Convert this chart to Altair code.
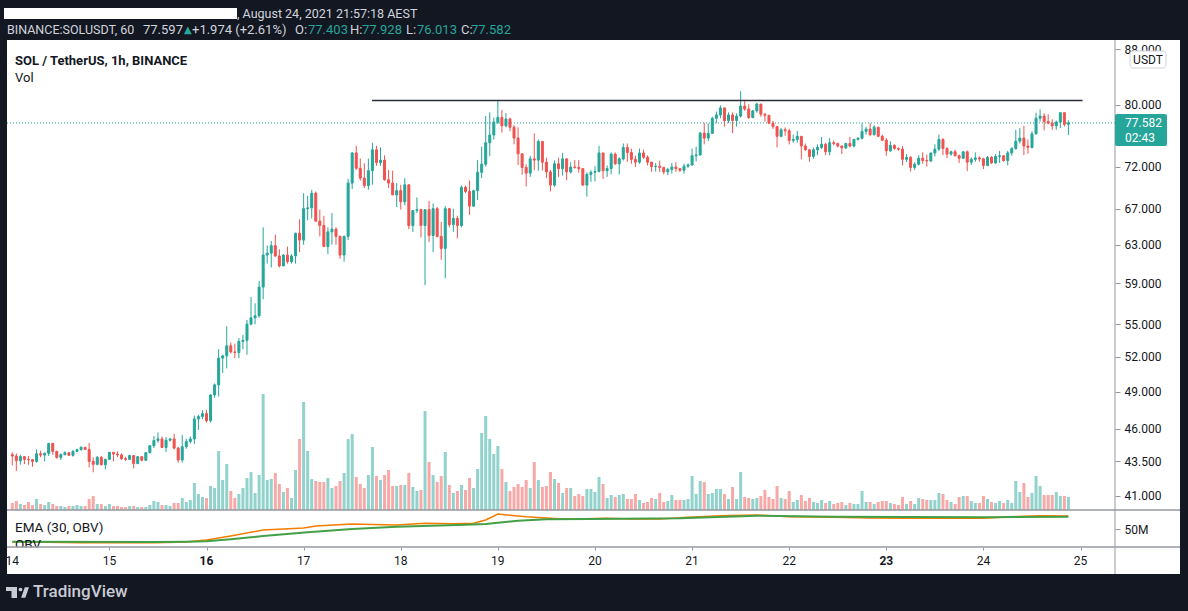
import altair as alt
import pandas as pd

# ---------------- data ----------------
FIRST_OPEN = 44.00  # open of the first hourly candle (Aug 14 00:00 AEST)

close = [
    43.90, 43.55, 43.85, 43.65, 43.63, 43.50, 44.07, 43.97, 44.10, 44.85,
    44.25, 43.80, 44.00, 44.15, 43.95, 44.25, 44.38, 44.55, 44.40, 43.50,
    43.28, 43.80, 43.25, 43.65, 44.18, 44.05, 43.98, 43.70, 43.65, 43.93,
    43.33, 43.85, 43.58, 44.15, 44.68, 45.08, 45.20, 44.55, 45.10, 45.20,
    44.50, 43.60, 44.60, 45.00, 45.20, 46.77, 46.96, 47.20, 46.63, 48.73,
    49.58, 51.90, 52.10, 53.00, 52.45, 52.40, 53.40, 53.50, 55.00, 55.60,
    55.80, 58.60, 61.90, 62.10, 62.90, 61.80, 60.75, 61.90, 61.20, 61.80,
    64.25, 63.50, 67.00, 67.10, 68.80, 65.60, 65.10, 62.80, 64.40, 64.70,
    63.90, 61.90, 63.90, 70.00, 73.70, 71.80, 70.60, 69.70, 71.50, 74.10,
    72.50, 72.80, 70.40, 70.00, 68.60, 69.10, 67.80, 69.80, 65.10, 66.80,
    66.90, 65.10, 66.90, 64.00, 67.00, 63.90, 62.60, 67.00, 65.20, 65.90,
    65.10, 69.50, 69.00, 67.30, 69.10, 71.30, 72.30, 75.00, 76.00, 77.70,
    78.30, 77.20, 78.10, 77.00, 75.60, 73.60, 71.90, 71.20, 72.96, 72.80,
    75.17, 72.55, 71.35, 69.76, 72.35, 71.75, 72.96, 71.35, 71.95, 71.90,
    71.75, 69.76, 71.05, 71.30, 71.40, 73.70, 71.50, 71.75, 73.55, 72.35,
    72.96, 74.40, 73.77, 72.90, 72.55, 73.70, 73.15, 72.55, 72.00, 72.05,
    71.90, 71.35, 71.65, 71.95, 71.75, 71.55, 72.05, 72.20, 73.35, 73.45,
    76.25, 75.60, 76.20, 78.20, 78.65, 79.60, 77.90, 78.65, 77.90, 78.50,
    79.85, 79.45, 78.30, 79.20, 80.13, 78.75, 78.60, 77.55, 77.10, 75.83,
    76.68, 76.55, 75.30, 75.42, 75.83, 74.58, 74.10, 73.27, 74.10, 74.40,
    74.80, 73.85, 75.00, 74.90, 74.58, 74.35, 74.90, 74.58, 75.42, 75.58,
    76.47, 76.77, 76.05, 77.00, 75.83, 75.33, 73.97, 74.66, 74.27, 74.18,
    72.90, 73.15, 71.90, 72.30, 73.04, 72.75, 72.70, 73.70, 74.18, 75.42,
    74.27, 73.56, 73.85, 73.35, 73.04, 73.85, 72.55, 72.90, 73.08, 72.96,
    72.15, 73.15, 72.45, 73.27, 73.35, 72.75, 73.70, 74.27, 75.20, 75.60,
    74.58, 74.40, 76.15, 78.20, 78.50, 77.75, 77.55, 77.20, 77.70, 78.95,
    77.403, 77.582,
]

high = [
    44.18, 44.10, 44.00, 43.85, 43.90, 43.68, 44.40, 44.30, 44.17, 44.90,
    44.90, 44.30, 44.10, 44.25, 44.10, 44.35, 44.45, 44.65, 44.60, 44.90,
    43.80, 43.90, 43.90, 43.70, 44.20, 44.20, 44.25, 44.10, 43.85, 44.00,
    43.95, 43.90, 43.90, 44.20, 44.70, 45.43, 45.70, 45.40, 45.35, 45.25,
    45.60, 44.60, 45.50, 45.20, 45.40, 47.05, 47.10, 47.47, 47.50, 48.80,
    49.70, 52.70, 52.20, 54.80, 53.30, 53.20, 53.70, 54.00, 55.40, 57.60,
    57.00, 59.20, 64.90, 62.90, 63.40, 64.10, 62.50, 62.00, 62.80, 62.00,
    64.30, 65.80, 68.80, 68.50, 69.20, 69.00, 66.90, 66.20, 64.90, 66.50,
    64.90, 64.00, 64.00, 70.50, 73.80, 74.60, 73.00, 72.40, 73.00, 75.00,
    74.60, 74.40, 73.40, 71.60, 71.50, 70.00, 69.80, 70.60, 69.80, 66.80,
    68.30, 67.00, 66.90, 67.90, 67.60, 67.20, 65.50, 67.30, 67.10, 67.00,
    66.20, 69.70, 69.70, 70.30, 69.20, 72.80, 74.50, 78.50, 79.00, 78.30,
    80.60, 79.30, 78.90, 78.30, 77.30, 77.00, 73.60, 72.30, 73.35, 76.20,
    75.40, 75.17, 73.10, 71.60, 72.75, 73.10, 73.70, 73.00, 72.55, 72.80,
    72.80, 71.75, 71.30, 71.55, 72.05, 74.60, 73.70, 72.14, 73.77, 73.77,
    73.15, 74.90, 74.90, 74.25, 73.35, 74.25, 74.10, 73.40, 72.60, 72.45,
    72.75, 71.90, 71.85, 72.45, 72.55, 71.75, 72.35, 72.40, 74.25, 74.50,
    76.40, 77.60, 77.50, 78.40, 79.10, 79.95, 79.60, 79.00, 79.00, 78.87,
    81.90, 80.70, 80.10, 79.32, 80.30, 80.13, 78.90, 78.60, 77.85, 77.10,
    76.90, 77.00, 76.80, 76.05, 76.55, 75.83, 74.90, 74.20, 74.40, 74.80,
    75.75, 75.00, 75.60, 75.30, 75.00, 74.65, 75.00, 75.75, 75.50, 75.70,
    77.55, 77.10, 77.55, 77.30, 77.10, 76.05, 75.60, 75.20, 74.80, 74.40,
    74.58, 73.56, 73.30, 72.55, 73.43, 73.77, 73.50, 73.70, 74.80, 76.05,
    75.60, 74.40, 74.00, 74.10, 73.50, 73.85, 74.00, 73.15, 73.77, 73.27,
    73.10, 73.30, 73.30, 73.56, 73.97, 73.40, 73.97, 74.40, 76.68, 76.90,
    77.20, 75.42, 76.47, 78.95, 79.40, 78.87, 78.75, 78.05, 77.90, 79.00,
    79.00, 77.928,
]

low = [
    43.20, 42.80, 43.25, 43.30, 43.25, 43.10, 43.40, 43.80, 43.50, 43.90,
    44.00, 43.70, 43.60, 43.95, 43.90, 43.85, 44.20, 44.30, 44.35, 43.05,
    42.70, 43.20, 43.20, 42.90, 43.60, 43.50, 43.83, 43.60, 43.55, 43.60,
    42.98, 43.30, 43.50, 43.55, 44.10, 44.50, 44.90, 44.50, 44.20, 45.00,
    44.40, 43.40, 43.40, 44.45, 44.85, 44.80, 45.90, 46.75, 46.50, 46.50,
    48.50, 48.60, 50.60, 51.00, 52.30, 51.90, 51.90, 52.70, 52.20, 54.90,
    55.00, 55.60, 57.40, 61.00, 60.60, 61.70, 60.60, 60.80, 61.00, 61.00,
    61.00, 62.20, 63.00, 65.70, 65.90, 65.50, 63.90, 62.80, 62.00, 63.00,
    63.00, 61.50, 61.20, 63.50, 69.30, 71.60, 70.30, 69.40, 69.20, 69.80,
    72.10, 72.10, 70.30, 69.40, 68.60, 67.20, 66.90, 67.40, 64.70, 64.40,
    66.50, 63.80, 58.80, 63.30, 62.20, 63.80, 61.40, 59.50, 64.90, 64.40,
    63.70, 64.90, 68.80, 66.30, 67.20, 68.00, 70.60, 72.00, 73.30, 75.40,
    77.40, 76.30, 77.00, 76.50, 74.80, 72.20, 71.00, 69.60, 70.75, 71.55,
    71.50, 71.55, 70.60, 69.00, 69.55, 70.75, 70.90, 70.35, 71.15, 71.75,
    71.25, 69.70, 68.40, 70.15, 70.20, 71.30, 70.50, 70.75, 71.05, 72.20,
    71.05, 72.75, 72.60, 72.35, 71.95, 72.35, 72.96, 72.14, 71.35, 71.40,
    71.35, 71.05, 70.95, 71.15, 71.35, 71.35, 71.15, 71.85, 72.15, 72.65,
    73.35, 74.80, 75.20, 76.25, 77.55, 78.20, 77.10, 77.55, 76.25, 77.10,
    78.30, 79.20, 78.10, 78.20, 78.95, 78.40, 77.75, 77.45, 76.80, 74.40,
    75.70, 75.90, 74.80, 75.00, 75.00, 72.90, 73.97, 72.60, 72.96, 73.43,
    74.20, 73.40, 73.40, 74.65, 74.40, 73.56, 74.20, 74.40, 74.40, 75.30,
    75.42, 76.05, 75.83, 75.90, 75.75, 75.20, 73.35, 73.85, 74.10, 73.97,
    72.15, 72.55, 71.40, 71.60, 72.15, 72.35, 72.00, 72.55, 73.27, 73.97,
    73.43, 73.04, 73.35, 73.27, 72.45, 72.96, 71.45, 72.20, 72.60, 72.60,
    71.70, 72.05, 72.35, 72.35, 72.45, 72.60, 72.15, 73.35, 74.10, 74.90,
    73.43, 73.60, 74.27, 76.05, 77.75, 76.60, 77.40, 76.68, 76.68, 76.90,
    77.10, 76.013,
]

volume_k = [
    350, 450, 300, 250, 400, 250, 550, 300, 250, 400,
    300, 200, 200, 150, 200, 200, 250, 200, 200, 550,
    700, 300, 300, 200, 300, 200, 200, 150, 150, 200,
    200, 150, 150, 150, 250, 450, 400, 250, 250, 200,
    350, 350, 600, 400, 500, 1350, 800, 650, 600, 1200,
    1100, 2950, 1500, 2300, 950, 600, 800, 1100, 1600, 1900,
    850, 1750, 5800, 1500, 1550, 1850, 1300, 900, 1100, 600,
    2000, 3550, 5400, 2950, 1550, 1450, 1400, 1400, 1600, 1100,
    1200, 1450, 1850, 3550, 3800, 1650, 1300, 1100, 1750, 3150,
    1700, 1500, 1750, 2000, 1200, 1200, 1250, 1250, 1850, 1150,
    950, 1000, 4950, 2400, 1750, 1400, 1700, 2900, 1250, 850,
    950, 1250, 1000, 1600, 1100, 2050, 3850, 4700, 3550, 2800,
    3200, 2050, 1400, 950, 1150, 1300, 1150, 1500, 1100, 2400,
    1500, 1150, 1200, 1900, 1550, 1350, 850, 1100, 1100, 700,
    800, 700, 1050, 1050, 900, 1650, 1300, 600, 750, 650,
    750, 800, 550, 550, 800, 500, 350, 400, 600, 550,
    850, 400, 450, 750, 500, 500, 500, 550, 1700, 800,
    1450, 1400, 800, 850, 1050, 1050, 800, 550, 1150, 550,
    1900, 650, 600, 550, 600, 700, 1000, 650, 550, 1200,
    600, 550, 950, 400, 500, 750, 450, 600, 400, 350,
    500, 350, 450, 300, 350, 400, 250, 350, 300, 300,
    950, 400, 400, 300, 400, 450, 450, 350, 300, 250,
    650, 300, 450, 300, 600, 550, 500, 500, 500, 850,
    800, 500, 400, 300, 650, 700, 700, 450, 350, 350,
    700, 550, 400, 350, 450, 350, 500, 350, 1450, 900,
    1350, 650, 850, 1700, 1200, 750, 750, 750, 900, 700,
    700, 650,
]

# OBV and its EMA(30), in millions, sampled at hours after Aug 14 00:00
obv_hour = [0, 17, 35, 43, 48, 54, 62, 67, 72, 75, 84, 89, 95, 102, 109, 114, 117, 120, 123,
            127, 132, 136, 141, 147, 153, 160, 167, 175, 184, 192, 203, 212, 221, 231, 240,
            247, 254, 261]
obv_m = [24.6, 22.6, 22.6, 24.0, 28.0, 36.0, 48.0, 50.0, 52.0, 56.0, 60.0, 59.0, 58.0, 61.4,
         60.6, 61.4, 68.0, 80.0, 77.4, 74.6, 72.0, 70.0, 70.6, 71.4, 70.0, 70.0, 73.4, 76.6,
         78.0, 74.6, 73.4, 72.0, 71.4, 71.4, 71.4, 74.6, 76.6, 76.0]
ema_hour = [0, 35, 43, 48, 54, 62, 73, 84, 95, 110, 117, 125, 132, 143, 165, 184, 203, 240, 261]
ema_m = [24.6, 24.0, 24.6, 25.4, 29.4, 36.0, 43.4, 50.0, 54.6, 58.0, 60.0, 66.6, 69.4, 70.0,
         71.4, 76.6, 74.6, 73.4, 74.6]

price_ticks = [88, 80, 72, 67, 63, 59, 55, 52, 49, 46, 43.5, 41]
day_tick_hours = [0, 24, 48, 72, 96, 120, 144, 168, 192, 216, 240, 264]  # Aug 14 ... Aug 25
day_labels = ["14", "15", "16", "17", "18", "19", "20", "21", "22", "23", "24", "25"]
bold_days = ["16", "23"]  # Mondays
resistance_h = [88.9]
resistance_h2 = [264.5]
resistance_price = [80.62]
last_price = [77.582]

assert len(close) == len(high) == len(low) == len(volume_k) == 262
assert len(obv_hour) == len(obv_m) and len(ema_hour) == len(ema_m)

opens = [FIRST_OPEN] + close[:-1]
df = pd.DataFrame({
    "h": list(range(len(close))),
    "open": opens,
    "close": close,
    "high": [max(a, b, c) for a, b, c in zip(high, opens, close)],
    "low": [min(a, b, c) for a, b, c in zip(low, opens, close)],
    "vol": volume_k,
})
obv_df = pd.DataFrame({"h": obv_hour, "v": obv_m})
ema_df = pd.DataFrame({"h": ema_hour, "v": ema_m})
res_df = pd.DataFrame({"h": resistance_h, "h2": resistance_h2, "price": resistance_price})
last_df = pd.DataFrame({"price": last_price})
days_df = pd.DataFrame({"h": day_tick_hours, "label": day_labels})
days_df["bold"] = days_df["label"].isin(bold_days)
ONE = pd.DataFrame({"k": [0]})

# ---------------- styling ----------------
UP, DOWN = "#26a69a", "#ef5350"
VUP, VDOWN = "#92d2cc", "#f7a9a7"
DARK = "#131722"
LIGHT = "#d1d4dc"
LINEC = "#9598a1"
FONT = "Roboto"

W, H = 1173, 534          # white panel (plot area)
AXX = 1108                # x of the right price axis inside the panel
PANE = 470                # bottom of price pane
OBVB = 507                # bottom of OBV pane
PXH = 4.0833              # pixels per hour
H0 = -0.07                # hour at the left edge of the panel

X = alt.Scale(domain=[H0, H0 + AXX / PXH], range=[0, AXX], nice=False, zero=False)
PRICE = alt.Scale(type="log", domain=[40.03, 89.4], range=[PANE, 0], nice=False)
VOL = alt.Scale(domain=[0, 23500], range=[PANE, 0], nice=False)
OBV = alt.Scale(domain=[14, 88], range=[OBVB, PANE], nice=False, zero=False)

X_AXIS = alt.Axis(
    orient="bottom", offset=-(H - OBVB), values=day_tick_hours, labels=False,
    domain=False, grid=False, ticks=True, tickSize=3, tickColor=LINEC, title=None,
)
Y_AXIS = alt.Axis(
    orient="right", offset=-(W - AXX), values=price_ticks, format=".3f", domain=False,
    grid=False, tickSize=5, tickColor=LINEC, labelColor=DARK, labelFontSize=12,
    labelFont=FONT, labelPadding=4, labelOverlap=False, title=None,
)
OBV_AXIS = alt.Axis(
    orient="right", offset=-(W - AXX), values=[50], labelExpr="datum.value + 'M'",
    domain=False, grid=False, tickSize=5, tickColor=LINEC, labelColor=DARK,
    labelFontSize=12, labelFont=FONT, labelPadding=4, title=None,
)

up_cond = "datum.close >= datum.open"

base = alt.Chart(df)

vol = base.mark_bar(size=3, clip=True).encode(
    x=alt.X("h:Q", scale=X, axis=X_AXIS),
    y=alt.Y("vol:Q", scale=VOL, axis=None),
    color=alt.condition(up_cond, alt.value(VUP), alt.value(VDOWN)),
)

last_line = alt.Chart(last_df).mark_rule(color=UP, strokeWidth=1, strokeDash=[1, 2]).encode(
    x=alt.value(0), x2=alt.value(AXX),
    y=alt.Y("price:Q", scale=PRICE, axis=None),
)

wicks = base.mark_rule(strokeWidth=1, clip=True).encode(
    x=alt.X("h:Q", scale=X, axis=X_AXIS),
    y=alt.Y("low:Q", scale=PRICE, axis=Y_AXIS),
    y2="high:Q",
    color=alt.condition(up_cond, alt.value(UP), alt.value(DOWN)),
)

bodies = base.mark_bar(size=2, strokeWidth=1, clip=True).encode(
    x=alt.X("h:Q", scale=X, axis=X_AXIS),
    y=alt.Y("open:Q", scale=PRICE, axis=None),
    y2="close:Q",
    color=alt.condition(up_cond, alt.value(UP), alt.value(DOWN)),
    stroke=alt.condition(up_cond, alt.value(UP), alt.value(DOWN)),
)

res_line = alt.Chart(res_df).mark_rule(color="#2a2e39", strokeWidth=1.5).encode(
    x=alt.X("h:Q", scale=X, axis=X_AXIS),
    x2="h2:Q",
    y=alt.Y("price:Q", scale=PRICE, axis=None),
)

obv_line = alt.Chart(obv_df).mark_line(color="#f57c00", strokeWidth=1.5).encode(
    x=alt.X("h:Q", scale=X, axis=X_AXIS),
    y=alt.Y("v:Q", scale=OBV, axis=OBV_AXIS),
)
ema_line = alt.Chart(ema_df).mark_line(color="#43a047", strokeWidth=2).encode(
    x=alt.X("h:Q", scale=X, axis=X_AXIS),
    y=alt.Y("v:Q", scale=OBV, axis=None),
)

# day labels of the time axis (dark text: the part left of the panel is invisible)
day_text_normal = alt.Chart(days_df).transform_filter("!datum.bold").mark_text(
    align="center", baseline="middle", color=DARK, fontSize=12, font=FONT,
).encode(x=alt.X("h:Q", scale=X, axis=X_AXIS), y=alt.value(521), text="label:N")
day_text_bold = alt.Chart(days_df).transform_filter("datum.bold").mark_text(
    align="center", baseline="middle", color=DARK, fontSize=12, font=FONT, fontWeight="bold",
).encode(x=alt.X("h:Q", scale=X, axis=X_AXIS), y=alt.value(521), text="label:N")


def txt(s, x, y, color, size=13, weight="normal", align="left", font=FONT):
    """x, y are screen coordinates of the whole 1188x611 picture."""
    return alt.Chart(ONE).mark_text(
        text=s, align=align, baseline="middle", color=color, fontSize=size,
        fontWeight=weight, font=font,
    ).encode(x=alt.value(x - 7), y=alt.value(y - 40))


def box(x1, x2, y1, y2, fill, stroke=None, r=0):
    kw = dict(fill=fill, cornerRadius=r)
    if stroke:
        kw.update(stroke=stroke, strokeWidth=1)
    return alt.Chart(ONE).mark_rect(**kw).encode(
        x=alt.value(x1 - 7), x2=alt.value(x2 - 7),
        y=alt.value(y1 - 40), y2=alt.value(y2 - 40),
    )


def hline(y, color=LINEC, w=1.5):
    return alt.Chart(ONE).mark_rule(color=color, strokeWidth=w).encode(
        x=alt.value(0), x2=alt.value(W), y=alt.value(y)
    )


vline = alt.Chart(ONE).mark_rule(color=LINEC, strokeWidth=1).encode(
    x=alt.value(AXX), y=alt.value(0), y2=alt.value(H)
)

LOGO = "#c8cbd3"
logo_dot = alt.Chart(ONE).mark_point(filled=True, color=LOGO, size=14, opacity=1).encode(
    x=alt.value(20.5 - 7), y=alt.value(589.5 - 40)
)
logo_slash = alt.Chart(ONE).mark_point(
    filled=True, color=LOGO, size=110, opacity=1,
    shape="M -0.55 1 L 0.15 -1 L 0.95 -1 L 0.25 1 Z",
).encode(x=alt.value(24 - 7), y=alt.value(592.5 - 40))

layers = [
    vol, last_line, wicks, bodies, res_line, obv_line, ema_line,
    txt("SOL / TetherUS, 1h, BINANCE", 15, 61, DARK, 13, "bold"),
    txt("Vol", 15, 78, DARK, 13),
    txt("EMA (30, OBV)", 15, 528, DARK, 13.5),
    txt("OBV", 15, 545, DARK, 13.5),
    box(10, 60, 547.5, 556, "white"),
    hline(PANE), hline(OBVB), vline,
    day_text_normal, day_text_bold,
    # badges on the price axis
    box(1130, 1166, 51, 68, "white", stroke="#d1d4dc", r=3),
    txt("USDT", 1148, 60, DARK, 12, align="center"),
    box(1115, 1167, 114, 146, UP, r=2),
    txt("77.582", 1125, 123, "white", 12),
    txt("02:43", 1125, 138, "white", 12),
    # header on dark background
    box(4, 237, 8, 19, "white"),
    txt(", August 24, 2021 21:57:18 AEST", 237, 13.5, LIGHT, 12.5),
    txt("BINANCE:SOLUSDT, 60", 7, 30, LIGHT, 12.5),
    txt("77.597", 143, 30, LIGHT, 13),
    txt("\u25B2", 184, 30, UP, 10, font="DejaVu Sans"),
    txt("+1.974 (+2.61%)", 192, 30, LIGHT, 13),
    txt("O:", 295, 30, LIGHT, 13),
    txt("77.403", 308, 30, UP, 13),
    txt("H:", 350, 30, LIGHT, 13),
    txt("77.928", 362, 30, UP, 13),
    txt("L:", 406, 30, LIGHT, 13),
    txt("76.013", 417, 30, UP, 13),
    txt("C:", 461, 30, LIGHT, 13),
    txt("77.582", 471, 30, UP, 13),
    # footer logo
    box(6, 17, 587, 591, LOGO),
    box(11.5, 17, 587, 598, LOGO),
    logo_dot, logo_slash,
    txt("TradingView", 33, 592, LOGO, 17, 500),
]

chart = (
    alt.layer(*layers)
    .resolve_scale(y="independent")
    .properties(
        width=W, height=H,
        padding={"left": 7, "top": 40, "right": 8, "bottom": 37},
        autosize=alt.AutoSizeParams(type="none"),
    )
    .configure(background=DARK)
    .configure_view(fill="white", stroke=None)
)

chart.save("out.html", embed_options={"renderer": "svg", "actions": False})
